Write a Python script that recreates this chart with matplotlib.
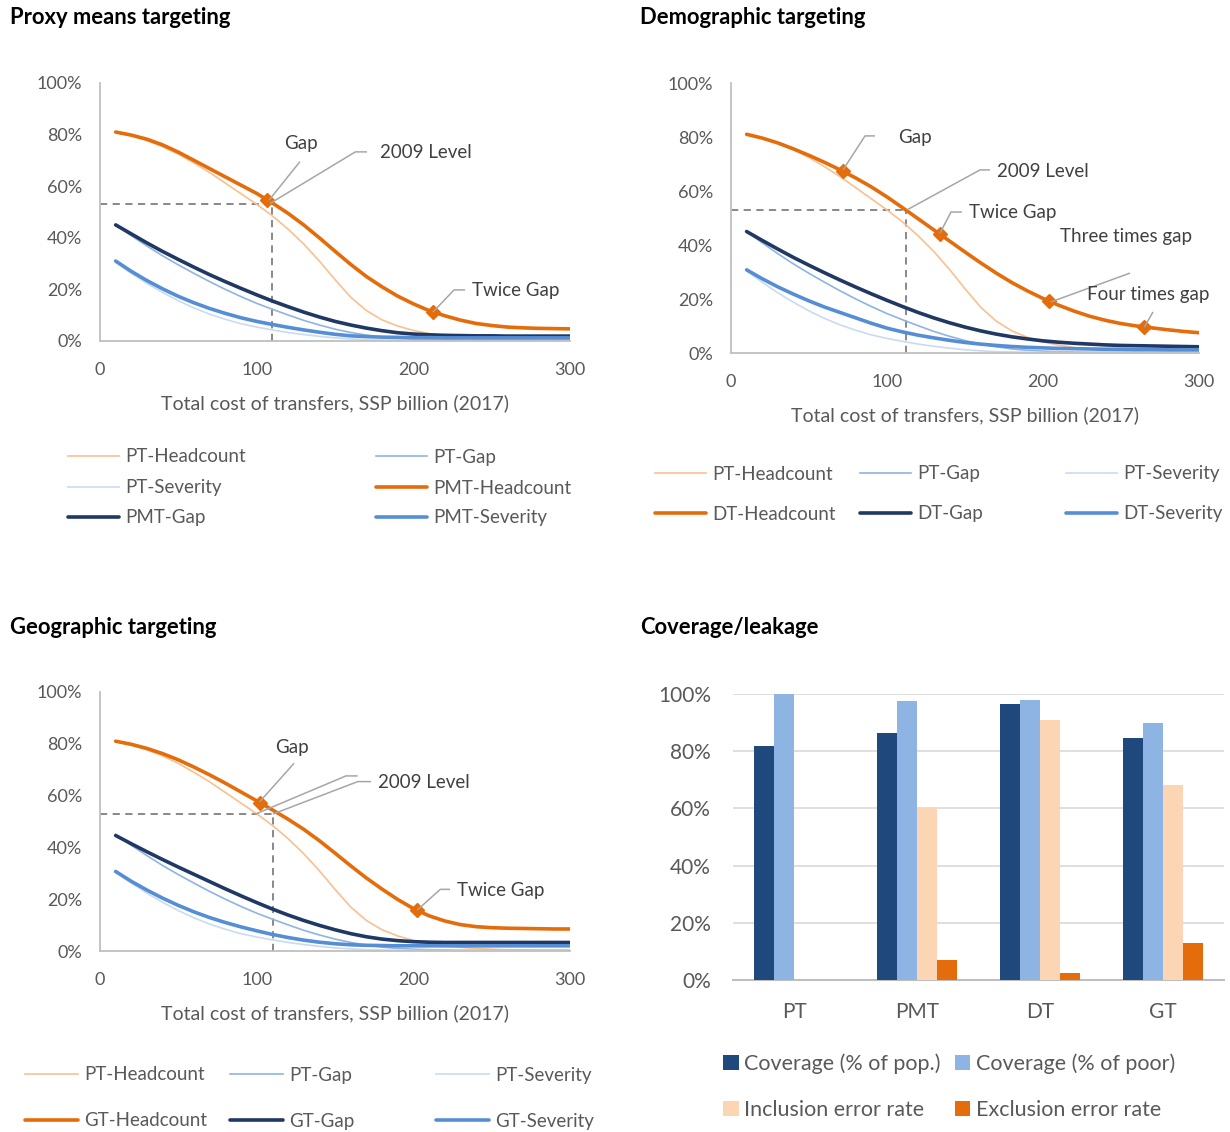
import numpy as np
import matplotlib
matplotlib.use("Agg")
import matplotlib.pyplot as plt
from matplotlib.patches import Patch

plt.rcParams['font.family'] = ['Lato', 'DejaVu Sans']

# ---------------------------------------------------------------- data
cost = [10, 20, 30, 40, 50, 60, 70, 80, 90, 100, 110, 120, 130, 140, 150,
        160, 170, 180, 190, 200, 210, 220, 230, 240, 250, 260, 270, 280, 290, 300]

# Perfect targeting (common to all three simulations), % of population
pt_headcount = [81.0, 79.6, 77.7, 75.3, 72.4, 69.0, 65.3, 61.2, 57.1, 53.0, 48.5, 43.4, 37.6, 31.0, 23.8,
                17.0, 11.8, 8.2, 5.8, 4.1, 2.9, 2.0, 1.4, 1.0, 0.7, 0.5, 0.4, 0.3, 0.3, 0.3]
pt_gap = [45.0, 40.8, 36.8, 33.0, 29.5, 26.2, 23.0, 20.0, 17.2, 14.6, 12.3, 10.1, 8.0, 6.2, 4.6,
          3.3, 2.3, 1.5, 1.0, 0.7, 0.5, 0.4, 0.3, 0.3, 0.3, 0.3, 0.3, 0.3, 0.3, 0.3]
pt_severity = [30.5, 26.2, 22.3, 18.8, 15.6, 12.8, 10.4, 8.4, 6.7, 5.4, 4.3, 3.3, 2.5, 1.8, 1.2,
               0.8, 0.5, 0.4, 0.3, 0.2, 0.2, 0.2, 0.2, 0.2, 0.2, 0.2, 0.2, 0.2, 0.2, 0.2]

# Proxy means targeting
pmt_headcount = [81.0, 79.8, 78.2, 76.0, 73.2, 70.0, 66.8, 63.6, 60.4, 57.2, 53.5, 49.5, 45.0, 40.0, 34.8,
                 29.7, 25.0, 21.0, 17.4, 14.4, 11.8, 9.8, 8.1, 6.8, 6.0, 5.4, 5.1, 4.9, 4.8, 4.7]
pmt_gap = [45.0, 41.5, 38.0, 34.7, 31.6, 28.6, 25.7, 23.0, 20.4, 17.9, 15.5, 13.3, 11.2, 9.3, 7.6,
           6.2, 5.0, 4.0, 3.2, 2.7, 2.4, 2.2, 2.1, 2.0, 2.0, 1.9, 1.9, 1.9, 1.9, 1.9]
pmt_severity = [31.0, 27.0, 23.4, 20.2, 17.3, 14.8, 12.6, 10.7, 9.0, 7.6, 6.4, 5.3, 4.3, 3.4, 2.6,
                2.0, 1.7, 1.5, 1.4, 1.3, 1.3, 1.2, 1.2, 1.2, 1.2, 1.2, 1.2, 1.2, 1.2, 1.2]

# Demographic targeting
dt_headcount = [81.0, 79.6, 77.8, 75.6, 73.2, 70.6, 67.8, 64.8, 61.5, 57.8, 53.8, 49.7, 45.6, 41.5, 37.4,
                33.4, 29.6, 26.1, 23.0, 20.2, 17.7, 15.5, 13.6, 12.1, 10.9, 10.0, 9.3, 8.6, 8.0, 7.5]
dt_gap = [45.0, 41.7, 38.5, 35.4, 32.5, 29.7, 27.0, 24.4, 21.9, 19.5, 17.2, 15.0, 13.0, 11.2, 9.6,
          8.2, 7.0, 6.0, 5.2, 4.5, 4.0, 3.6, 3.3, 3.0, 2.8, 2.7, 2.6, 2.5, 2.4, 2.3]
dt_severity = [30.8, 27.5, 24.5, 21.8, 19.3, 17.0, 15.0, 13.0, 11.0, 9.2, 7.8, 6.6, 5.6, 4.7, 3.9,
               3.3, 2.8, 2.4, 2.1, 1.9, 1.7, 1.6, 1.5, 1.4, 1.4, 1.3, 1.3, 1.2, 1.2, 1.2]

# Geographic targeting
gt_headcount = [81.0, 79.8, 78.2, 76.2, 73.8, 71.0, 68.0, 64.8, 61.4, 58.0, 54.5, 50.9, 47.0, 42.6, 37.8,
                32.9, 28.2, 23.9, 19.9, 16.4, 13.6, 11.6, 10.2, 9.4, 9.0, 8.8, 8.7, 8.6, 8.5, 8.5]
gt_gap = [44.6, 41.4, 38.3, 35.3, 32.4, 29.6, 26.8, 24.0, 21.3, 18.7, 16.2, 13.9, 11.8, 9.9, 8.2,
          6.7, 5.5, 4.6, 4.0, 3.6, 3.4, 3.3, 3.3, 3.3, 3.3, 3.3, 3.3, 3.3, 3.3, 3.3]
gt_severity = [30.7, 26.9, 23.5, 20.4, 17.6, 15.1, 12.9, 11.0, 9.3, 7.8, 6.4, 5.2, 4.2, 3.4, 2.8,
               2.4, 2.2, 2.1, 2.0, 2.0, 2.0, 2.0, 2.0, 2.0, 2.0, 2.0, 2.0, 2.0, 2.0, 2.0]

# 2009 poverty headcount and the budget that restores it
level_2009 = 53.0
pmt_level_cost = 109.8
dt_level_cost = 112.2
gt_level_cost = 110.4

# Budgets equal to multiples of the poverty gap
pmt_gap_costs = [106.6, 212.5]
dt_gap_costs = [71.5, 134.0, 204.0, 265.0]
gt_gap_costs = [101.9, 202.5]

# Coverage / leakage
categories = ['PT', 'PMT', 'DT', 'GT']
coverage_pop = [81.8, 86.2, 96.4, 84.5]
coverage_poor = [100.0, 97.7, 97.8, 90.0]
inclusion_err = [0.0, 60.0, 90.8, 68.2]
exclusion_err = [0.0, 7.0, 2.4, 12.8]

yticks = [0, 20, 40, 60, 80, 100]
xticks = [0, 100, 200, 300]

# ---------------------------------------------------------------- style
W, H = 1230, 1132
C_PT_HEAD = '#F9C090'
C_PT_GAP = '#8EB4E3'
C_PT_SEV = '#C9DBF2'
C_HEAD = '#E46C0A'
C_GAP = '#1F3864'
C_SEV = '#558ED5'
C_TXT = '#595959'
C_ANN = '#404040'
C_LEAD = '#A6A6A6'
C_AXIS = '#BFBFBF'

fig = plt.figure(figsize=(W / 100, H / 100), dpi=100)


def fx(px):
    return px / W


def fy(py):
    return 1 - py / H


def add_axes_px(x0, x1, y_top, y_bottom):
    return fig.add_axes([fx(x0), fy(y_bottom), (x1 - x0) / W, (y_bottom - y_top) / H])


def setup_line_axes(ax, xlab_pad):
    ax.set_xlim(0, 300)
    ax.set_ylim(0, 100)
    ax.set_xticks(xticks)
    ax.set_yticks(yticks)
    ax.set_yticklabels([f'{v}%' for v in yticks])
    for s in ('top', 'right'):
        ax.spines[s].set_visible(False)
    for s in ('left', 'bottom'):
        ax.spines[s].set_color(C_AXIS)
        ax.spines[s].set_linewidth(1.3)
    ax.tick_params(axis='both', length=0, colors=C_TXT, labelsize=13)
    ax.tick_params(axis='y', pad=13)
    ax.tick_params(axis='x', pad=15)
    ax.set_xlabel('Total cost of transfers, SSP billion (2017)', color=C_TXT,
                  fontsize=14, labelpad=xlab_pad)
    ax.set_facecolor('none')


def draw_curves(ax, head, gap, sev):
    hs = []
    hs.append(ax.plot(cost, pt_headcount, color=C_PT_HEAD, lw=1.2)[0])
    hs.append(ax.plot(cost, pt_gap, color=C_PT_GAP, lw=1.2)[0])
    hs.append(ax.plot(cost, pt_severity, color=C_PT_SEV, lw=1.2)[0])
    hs.append(ax.plot(cost, head, color=C_HEAD, lw=2.6, solid_capstyle='round')[0])
    hs.append(ax.plot(cost, gap, color=C_GAP, lw=2.6, solid_capstyle='round')[0])
    hs.append(ax.plot(cost, sev, color=C_SEV, lw=2.6, solid_capstyle='round')[0])
    return hs


def draw_level(ax, level_cost):
    ax.plot([0, level_cost], [level_2009, level_2009], color='#7F7F7F', lw=1.3,
            ls=(0, (4, 3)), zorder=1)
    ax.plot([level_cost, level_cost], [0, level_2009], color='#7F7F7F', lw=1.3,
            ls=(0, (4, 3)), zorder=1)


def draw_markers(ax, costs, head):
    ys = np.interp(costs, cost, head)
    ax.plot(costs, ys, ls='none', marker='D', ms=7, color=C_HEAD, zorder=5)


def leader(ax, xs, ys):
    ax.plot(xs, ys, color=C_LEAD, lw=1.1, zorder=6, solid_capstyle='butt')


def note(ax, x, y, s, ha='left'):
    ax.text(x, y, s, ha=ha, va='center', fontsize=13.5, color=C_ANN, zorder=7)


def entry_legend(handle, label, x_px, y_px, hlen, size=13.5, hheight=0.7, tpad=0.35):
    leg = fig.legend([handle], [label], loc='center left',
                     bbox_to_anchor=(fx(x_px), fy(y_px)), frameon=False,
                     borderpad=0, borderaxespad=0, handlelength=hlen,
                     handleheight=hheight, handletextpad=tpad, fontsize=size,
                     labelcolor=C_TXT)
    return leg


# ---------------------------------------------------------------- titles
for (x, y, t) in [(10, 17, 'Proxy means targeting'), (640, 17, 'Demographic targeting'),
                  (10, 627, 'Geographic targeting'), (640, 627, 'Coverage/leakage')]:
    fig.text(fx(x), fy(y), t, fontsize=15.8, fontweight='bold', ha='left', va='center')

# ---------------------------------------------------------------- proxy means
ax1 = add_axes_px(100, 570, 83, 341)
setup_line_axes(ax1, 12)
h1 = draw_curves(ax1, pmt_headcount, pmt_gap, pmt_severity)
draw_level(ax1, pmt_level_cost)
draw_markers(ax1, pmt_gap_costs, pmt_headcount)
leader(ax1, [107.9, 127.6], [54.6, 69.5])
note(ax1, 128, 76.7, 'Gap', ha='center')
leader(ax1, [108.5, 163, 170.4], [53.3, 73.3, 73.3])
note(ax1, 178.7, 72.9, '2009 Level')
leader(ax1, [212.5, 226, 233], [11.2, 19.8, 19.8])
note(ax1, 237.4, 19.6, 'Twice Gap')

lab1 = ['PT-Headcount', 'PT-Gap', 'PT-Severity', 'PMT-Headcount', 'PMT-Gap', 'PMT-Severity']
pos1 = [(68, 457), (376, 457), (68, 488), (376, 488), (68, 518), (376, 518)]
for h, l, (x, y) in zip(h1, lab1, pos1):
    entry_legend(h, l, x, y, 2.7)

# ---------------------------------------------------------------- demographic
ax2 = add_axes_px(731, 1199, 83, 353)
setup_line_axes(ax2, 12)
h2 = draw_curves(ax2, dt_headcount, dt_gap, dt_severity)
draw_level(ax2, dt_level_cost)
draw_markers(ax2, dt_gap_costs, dt_headcount)
leader(ax2, [71.8, 85.9, 92.3], [67.8, 80.4, 80.4])
note(ax2, 118, 80.0, 'Gap', ha='center')
leader(ax2, [112.8, 159.6, 166], [53.0, 67.8, 67.8])
note(ax2, 170.5, 67.4, '2009 Level')
leader(ax2, [134, 141, 148], [44.4, 52.2, 52.2])
note(ax2, 152.6, 52.2, 'Twice Gap')
note(ax2, 211, 43.0, 'Three times gap')
leader(ax2, [205, 255.8], [18.9, 29.6])
note(ax2, 228, 21.5, 'Four times gap')
leader(ax2, [265, 270.5], [9.6, 15.2])

lab2 = ['PT-Headcount', 'PT-Gap', 'PT-Severity', 'DT-Headcount', 'DT-Gap', 'DT-Severity']
pos2 = [(655, 474), (860, 474), (1066, 474), (655, 514), (860, 514), (1066, 514)]
for h, l, (x, y) in zip(h2, lab2, pos2):
    entry_legend(h, l, x, y, 2.7)

# ---------------------------------------------------------------- geographic
ax3 = add_axes_px(100, 570, 692, 951)
setup_line_axes(ax3, 12)
h3 = draw_curves(ax3, gt_headcount, gt_gap, gt_severity)
draw_level(ax3, gt_level_cost)
draw_markers(ax3, gt_gap_costs, gt_headcount)
leader(ax3, [101.9, 123.9], [57.6, 72.5])
note(ax3, 122.5, 78.4, 'Gap', ha='center')
leader(ax3, [99.4, 157, 164.5], [52.9, 67.6, 67.6])
leader(ax3, [110.4, 164.5, 173], [52.9, 65.4, 65.4])
note(ax3, 177.4, 64.9, '2009 Level')
leader(ax3, [202.5, 217.2, 223.4], [15.8, 23.8, 23.8])
note(ax3, 227.8, 23.2, 'Twice Gap')

lab3 = ['PT-Headcount', 'PT-Gap', 'PT-Severity', 'GT-Headcount', 'GT-Gap', 'GT-Severity']
pos3 = [(25, 1075), (230, 1075), (436, 1075), (25, 1121), (230, 1121), (436, 1121)]
for h, l, (x, y) in zip(h3, lab3, pos3):
    entry_legend(h, l, x, y, 2.8)

# ---------------------------------------------------------------- coverage / leakage
ax4 = add_axes_px(733, 1224, 694, 980)
xpos = np.arange(len(categories))
bw = 0.163
series = [
    (coverage_pop, '#1F497D', 'Coverage (% of pop.)'),
    (coverage_poor, '#8EB4E3', 'Coverage (% of poor)'),
    (inclusion_err, '#FCD5B5', 'Inclusion error rate'),
    (exclusion_err, '#E46C0A', 'Exclusion error rate'),
]
bar_handles = []
for i, (vals, col, lab) in enumerate(series):
    ax4.bar(xpos + (i - 1.5) * bw, vals, width=bw, color=col, zorder=3, label=lab)
    bar_handles.append(Patch(facecolor=col, edgecolor='none'))
ax4.set_xlim(-0.5, 3.5)
ax4.set_ylim(0, 100)
ax4.set_yticks(yticks)
ax4.set_yticklabels([f'{v}%' for v in yticks])
ax4.set_xticks(xpos)
ax4.set_xticklabels(categories)
ax4.yaxis.grid(True, color='#D9D9D9', lw=1.2, zorder=0)
ax4.set_axisbelow(True)
for s in ('top', 'right', 'left'):
    ax4.spines[s].set_visible(False)
ax4.spines['bottom'].set_color(C_AXIS)
ax4.spines['bottom'].set_linewidth(1.5)
ax4.tick_params(axis='both', length=0, colors=C_TXT, labelsize=15)
ax4.tick_params(axis='y', pad=16)
ax4.tick_params(axis='x', pad=16)
ax4.set_facecolor('none')

pos4 = [(723, 1064), (955, 1064), (723, 1110), (955, 1110)]
for h, (vals, col, lab), (x, y) in zip(bar_handles, series, pos4):
    entry_legend(h, lab, x, y, 0.72, size=15.5, hheight=0.72, tpad=0.25)

fig.savefig('out.png', dpi=100, facecolor='white')
